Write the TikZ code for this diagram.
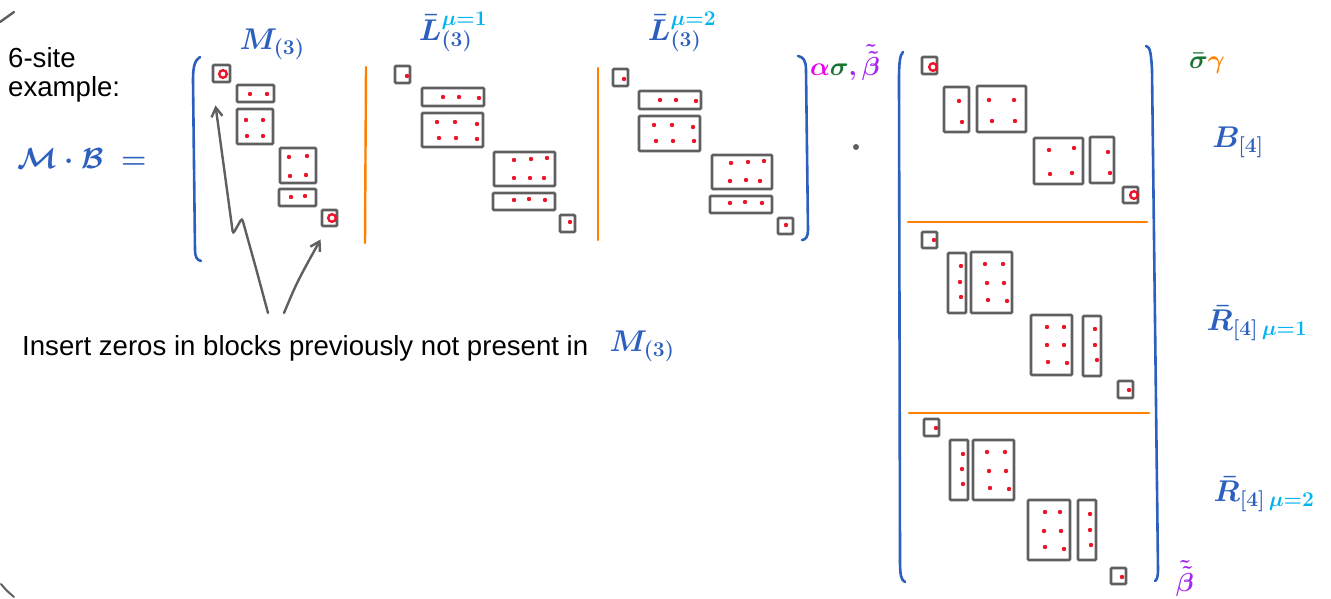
\RequirePackage{fix-cm}
\documentclass[tikz,border=0pt]{standalone}
\usepackage{fontspec}
\setmainfont{Liberation Sans}
\usetikzlibrary{arrows.meta,fit}
\definecolor{hblue}{RGB}{45,95,190}
\definecolor{hcyan}{RGB}{0,180,240}
\definecolor{horange}{RGB}{255,128,0}
\definecolor{hred}{RGB}{235,20,40}
\definecolor{hgray}{RGB}{95,95,95}
\definecolor{hmag}{RGB}{235,0,235}
\definecolor{hgreen}{RGB}{25,115,50}
\definecolor{hpurple}{RGB}{165,40,240}
\begin{document}
\begin{tikzpicture}[x=1pt,y=-1pt,
 blk/.style={draw=hgray,line width=2.8pt,inner sep=0pt,rounded corners=1pt},
 rdot/.style={fill=hred},
 ring/.style={draw=hred,line width=2.4pt},
 brk/.style={draw=hblue,line width=2.6pt,line cap=round,line join=round},
 sep/.style={draw=horange,line width=2.4pt,line cap=round},
 arr/.style={draw=hgray,line width=2.4pt,line cap=round,-{Straight Barb[length=9pt,width=11pt]}},
 txt/.style={inner sep=0pt,font=\fontsize{27.6}{30}\selectfont},
 hw/.style={inner sep=0pt,text=hblue,font=\fontsize{30}{32}\selectfont\boldmath},
 hws/.style={inner sep=0pt,text=hblue,font=\fontsize{26}{28}\selectfont\boldmath}
]
\useasboundingbox (0,0) rectangle (1331,599);

% corner marks
\draw[hgray,line width=2.4pt,line cap=round] (0,22) -- (14,12);
\draw[hgray,line width=2pt,line cap=round] (1,584) .. controls (6,590) .. (14,597);

% texts
\node[txt,anchor=base west] (six) at (8,68) {6-site};
\node[txt,anchor=base west] (ex) at (8,97) {example:};
\node[txt,anchor=base west] (ins) at (22,355) {Insert zeros in blocks previously not present in};

% handwritten labels
\node[hw,font=\fontsize{29}{31}\selectfont\boldmath] (mb) at (82,159) {$\mathcal{M}\cdot\mathcal{B}\ =$};
\node[hw] (lm) at (272,44) {$M_{(3)}$};
\node[hw] (l1) at (453,32) {$\bar{L}^{\textcolor{hcyan}{\mu=1}}_{(3)}$};
\node[hw] (l2) at (682,32) {$\bar{L}^{\textcolor{hcyan}{\mu=2}}_{(3)}$};
\node[hws] (asb) at (845,63) {$\textcolor{hmag}{\alpha}\textcolor{hgreen}{\sigma}\textcolor{hpurple}{,\tilde{\tilde{\beta}}}$};
\node[hws] (sg) at (1207,63) {$\textcolor{hgreen}{\bar\sigma}\textcolor{horange}{\gamma}$};
\node[hw] (bl) at (1238,142) {$B_{[4]}$};
\node[hw] (r1) at (1257,323) {$\bar{R}_{[4]\,\textcolor{hcyan}{\mu=1}}$};
\node[hw] (r2) at (1264,494) {$\bar{R}_{[4]\,\textcolor{hcyan}{\mu=2}}$};
\node[hws] (bb) at (1185,578) {$\textcolor{hpurple}{\tilde{\tilde\beta}}$};
\node[hw] (m3b) at (642,346) {$M_{(3)}$};

% brackets
\draw[brk] (200,57) .. controls (195,60) and (193,66) .. (193,80) -- (195,250) .. controls (195,257) and (197,260) .. (201,261);
\draw[brk] (798,56) .. controls (803,57) and (806,60) .. (806,70) -- (808,230) .. controls (808,236) and (806,240) .. (802,240);
\draw[brk] (903,52) .. controls (900,55) and (899,62) .. (899,80) -- (900,560) .. controls (900,575) and (901,580) .. (905,582);
\draw[brk] (1146,46) .. controls (1150,47) and (1151,52) .. (1152,70) -- (1158,570) .. controls (1158,576) and (1157,580) .. (1155,581);

% separators
\draw[sep] (366,67) -- (365,243);
\draw[sep] (598,68) -- (598,240);
\draw[sep] (908,222) -- (1147,222);
\draw[sep] (909,413) -- (1149,413);

% product dot
\fill[hgray] (856,147) circle (3);

% M(3) blocks
\node[blk,fit={(213,65)(230,82)}] (m1) {};
\node[blk,fit={(237,85)(274,102)}] (m2) {};
\node[blk,fit={(237,109)(273,144)}] (m3) {};
\node[blk,fit={(280,148)(316,183)}] (m4) {};
\node[blk,fit={(279,189)(316,206)}] (m5) {};
\node[blk,fit={(322,210)(337,226)}] (m6) {};
\draw[ring] (223,74) circle (3.8);
\draw[ring] (332,218) circle (3.8);
\foreach \x/\y in {250/94,267/94,246/120,263/120,247/136,263/136,289/157,307/156,290/176,306/175,291/197,305/196}
  \fill[rdot] (\x,\y) circle (2.2);

% L1 blocks
\node[blk,fit={(395,66)(410,83)}] (a1) {};
\node[blk,fit={(422,88)(484,106)}] (a2) {};
\node[blk,fit={(422,113)(483,147)}] (a3) {};
\node[blk,fit={(494,152)(555,186)}] (a4) {};
\node[blk,fit={(493,193)(555,210)}] (a5) {};
\node[blk,fit={(560,215)(575,232)}] (a6) {};
\foreach \x/\y in {407/76,443/97,459/97,479/98,437/122,455/122,477/124,439/138,456/138,477/139,514/160,531/159,547/158,514/178,530/178,544/178,514/200,529/199,545/200,570/222}
  \fill[rdot] (\x,\y) circle (2.2);

% L2 blocks
\node[blk,fit={(613,69)(628,86)}] (b1) {};
\node[blk,fit={(639,91)(701,109)}] (b2) {};
\node[blk,fit={(639,116)(700,151)}] (b3) {};
\node[blk,fit={(712,155)(772,189)}] (b4) {};
\node[blk,fit={(710,196)(772,213)}] (b5) {};
\node[blk,fit={(778,218)(793,234)}] (b6) {};
\foreach \x/\y in {624/79,660/100,676/100,696/101,654/125,672/125,693/127,656/141,673/141,694/141,731/163,748/162,764/161,730/181,746/180,760/181,730/203,745/202,762/203,786/225}
  \fill[rdot] (\x,\y) circle (2.2);

% B blocks
\node[blk,fit={(922,57)(937,74)}] (c1) {};
\node[blk,fit={(944,87)(969,132)}] (c2) {};
\node[blk,fit={(977,86)(1026,132)}] (c3) {};
\node[blk,fit={(1034,138)(1083,184)}] (c4) {};
\node[blk,fit={(1090,137)(1114,183)}] (c5) {};
\node[blk,fit={(1123,187)(1138,203)}] (c6) {};
\draw[ring] (933,67) circle (3.8);
\draw[ring] (1134,195) circle (3.8);
\foreach \x/\y in {959/101,962/122,989/100,1014/100,992/121,1015/121,1049/150,1074/148,1050/174,1072/173,1108/152,1110/173}
  \fill[rdot] (\x,\y) circle (2.2);

% R1 blocks
\node[blk,fit={(922,232)(937,248)}] (d1) {};
\node[blk,fit={(948,253)(966,313)}] (d2) {};
\node[blk,fit={(971,252)(1012,313)}] (d3) {};
\node[blk,fit={(1031,315)(1072,375)}] (d4) {};
\node[blk,fit={(1083,316)(1101,376)}] (d5) {};
\node[blk,fit={(1118,381)(1133,398)}] (d6) {};
\foreach \x/\y in {934/240,961/266,960/282,961/297,985/264,1003/264,987/283,1004/283,988/300,1007/301,1047/327,1064/327,1047/345,1064/345,1048/362,1067/363,1095/329,1095/345,1097/360,1129/390}
  \fill[rdot] (\x,\y) circle (2.2);

% R2 blocks
\node[blk,fit={(924,419)(939,436)}] (e1) {};
\node[blk,fit={(950,440)(968,500)}] (e2) {};
\node[blk,fit={(973,440)(1014,500)}] (e3) {};
\node[blk,fit={(1028,500)(1070,560)}] (e4) {};
\node[blk,fit={(1078,500)(1096,560)}] (e5) {};
\node[blk,fit={(1111,568)(1126,584)}] (e6) {};
\foreach \x/\y in {936/428,963/454,962/469,963/484,987/452,1005/452,989/471,1006/471,990/488,1009/489,1045/512,1060/512,1044/531,1061/531,1045/547,1064/549,1090/514,1090/530,1091/545,1122/577}
  \fill[rdot] (\x,\y) circle (2.2);

% arrows
\coordinate (s1) at (268,313);
\coordinate (s2) at (284,313);
\draw[arr,rounded corners=3pt] (s1) -- (257,272) -- (242,218) -- (233,234) -- ([shift={(-6pt,-22pt)}]m1.south);
\draw[arr] (s2) .. controls (297,282) .. ([shift={(0pt,-12pt)}]m6.south west);
\end{tikzpicture}
\end{document}
